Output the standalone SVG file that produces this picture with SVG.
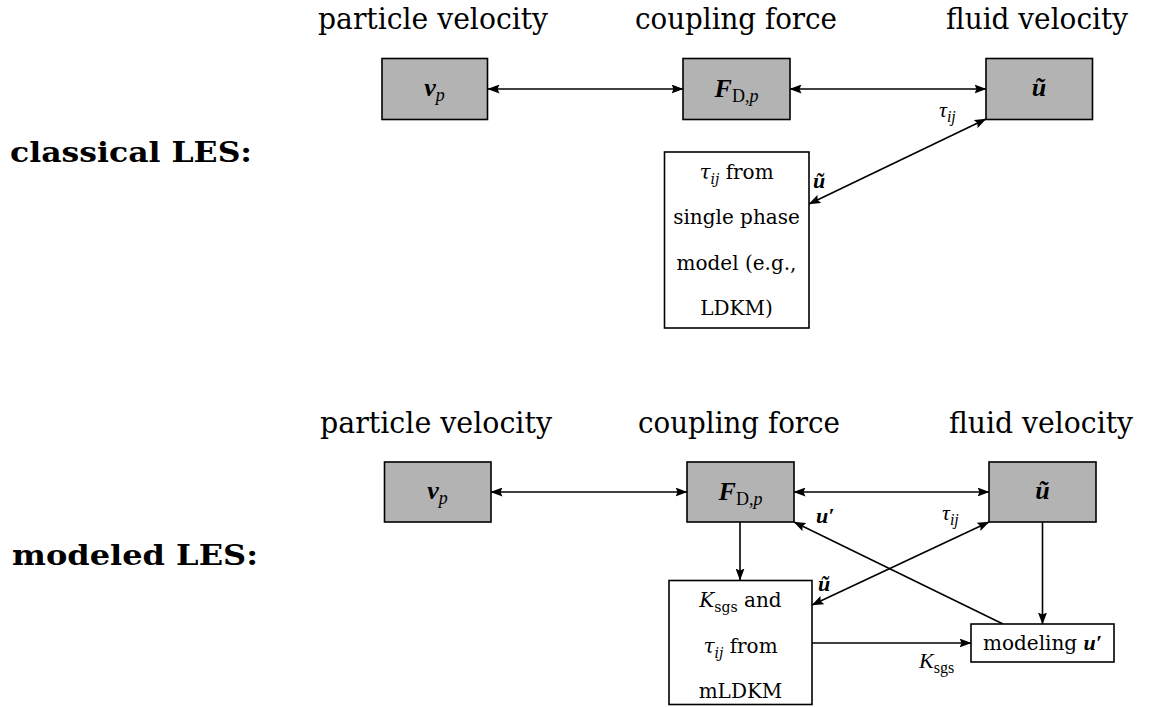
<svg xmlns="http://www.w3.org/2000/svg" width="1152" height="707" viewBox="0 0 1152 707">
<style>
text{font-family:"DejaVu Serif","Liberation Serif",serif;fill:#000}
.lib{font-family:"Liberation Serif","DejaVu Serif",serif}
.title{font-size:30px}
.head{font-size:28px;font-weight:bold}
.body{font-size:20px}
.math{font-size:26px}
.lbl{font-size:22px}
.bi{font-weight:bold;font-style:italic}
.it{font-style:italic}
.gbox{fill:#b3b3b3;stroke:#000;stroke-width:1.6}
.wbox{fill:#fff;stroke:#000;stroke-width:1.6}
.c{stroke:#000;stroke-width:1.6;fill:none}
</style>
<defs>
<marker id="ah" markerWidth="12" markerHeight="9" refX="11.5" refY="4.5" orient="auto-start-reverse" markerUnits="userSpaceOnUse">
<path d="M0,0 L12,4.5 L0,9 L2,4.5 z" fill="#000"/>
</marker>
</defs>
<rect width="1152" height="707" fill="#fff"/>

<text class="head" x="10" y="162" textLength="242" lengthAdjust="spacingAndGlyphs">classical LES:</text>
<text class="head" x="12" y="565" textLength="246" lengthAdjust="spacingAndGlyphs">modeled LES:</text>

<text class="title" x="318" y="29" textLength="230" lengthAdjust="spacingAndGlyphs">particle velocity</text>
<text class="title" x="635" y="29" textLength="202" lengthAdjust="spacingAndGlyphs">coupling force</text>
<text class="title" x="946" y="29" textLength="182" lengthAdjust="spacingAndGlyphs">fluid velocity</text>
<text class="title" x="320" y="433" textLength="232" lengthAdjust="spacingAndGlyphs">particle velocity</text>
<text class="title" x="638" y="433" textLength="202" lengthAdjust="spacingAndGlyphs">coupling force</text>
<text class="title" x="949" y="433" textLength="184" lengthAdjust="spacingAndGlyphs">fluid velocity</text>

<g id="connectors">
<line class="c" x1="488" y1="89" x2="683" y2="89" marker-start="url(#ah)" marker-end="url(#ah)"/>
<line class="c" x1="790" y1="89" x2="986" y2="89" marker-start="url(#ah)" marker-end="url(#ah)"/>
<line class="c" x1="986" y1="119" x2="809" y2="204" marker-start="url(#ah)" marker-end="url(#ah)"/>
<text class="lbl it lib" x="939" y="117">τ<tspan dy="5" font-size="16">ij</tspan></text>
<text class="lbl bi lib" x="813" y="188">ũ</text>

<line class="c" x1="491" y1="492" x2="687" y2="492" marker-start="url(#ah)" marker-end="url(#ah)"/>
<line class="c" x1="794" y1="492" x2="989" y2="492" marker-start="url(#ah)" marker-end="url(#ah)"/>
<line class="c" x1="740" y1="522" x2="740" y2="580" marker-end="url(#ah)"/>
<line class="c" x1="1042.5" y1="522" x2="1042.5" y2="624" marker-end="url(#ah)"/>
<line class="c" x1="812" y1="643" x2="971" y2="643" marker-end="url(#ah)"/>
<line class="c" x1="1003" y1="624" x2="794" y2="522" marker-end="url(#ah)"/>
<line class="c" x1="989" y1="522" x2="812" y2="605" marker-start="url(#ah)" marker-end="url(#ah)"/>
<text class="lbl bi lib" x="816" y="523">u′</text>
<text class="lbl it lib" x="942" y="520">τ<tspan dy="5" font-size="16">ij</tspan></text>
<text class="lbl bi lib" x="818" y="591">ũ</text>
<text class="lbl it lib" x="919" y="668">K<tspan dy="5" font-size="16" font-style="normal">sgs</tspan></text>
</g>

<g id="vp1">
<rect class="gbox" x="382" y="58.5" width="105.5" height="61"/>
<text class="math lib" x="434.5" y="96" text-anchor="middle"><tspan class="bi">v</tspan><tspan class="it" dy="5" font-size="18">p</tspan></text>
</g>
<g id="F1">
<rect class="gbox" x="683" y="58.5" width="107" height="61"/>
<text class="math lib" x="736.5" y="97" text-anchor="middle"><tspan class="bi">F</tspan><tspan dy="5" font-size="18">D,<tspan class="it">p</tspan></tspan></text>
</g>
<g id="u1">
<rect class="gbox" x="986" y="58.5" width="106.5" height="61"/>
<text class="math bi lib" x="1039" y="96" text-anchor="middle">ũ</text>
</g>
<g id="model1">
<rect class="wbox" x="664.5" y="152" width="144.5" height="176"/>
<text class="body" x="736.5" y="179" text-anchor="middle"><tspan class="it">τ</tspan><tspan class="it" dy="5" font-size="14">ij</tspan><tspan dy="-5"> from</tspan></text>
<text class="body" x="736.5" y="224" text-anchor="middle">single phase</text>
<text class="body" x="736.5" y="270" text-anchor="middle">model (e.g.,</text>
<text class="body" x="736.5" y="315" text-anchor="middle">LDKM)</text>
</g>

<g id="vp2">
<rect class="gbox" x="384.5" y="462" width="106.5" height="60"/>
<text class="math lib" x="437.5" y="499" text-anchor="middle"><tspan class="bi">v</tspan><tspan class="it" dy="5" font-size="18">p</tspan></text>
</g>
<g id="F2">
<rect class="gbox" x="687" y="462" width="107" height="60"/>
<text class="math lib" x="740.5" y="500" text-anchor="middle"><tspan class="bi">F</tspan><tspan dy="5" font-size="18">D,<tspan class="it">p</tspan></tspan></text>
</g>
<g id="u2">
<rect class="gbox" x="989" y="462" width="107" height="60"/>
<text class="math bi lib" x="1042.5" y="499" text-anchor="middle">ũ</text>
</g>
<g id="mldkm">
<rect class="wbox" x="669" y="580.5" width="143" height="124"/>
<text class="body" x="740.5" y="607" text-anchor="middle"><tspan class="it">K</tspan><tspan dy="5" font-size="14">sgs</tspan><tspan dy="-5"> and</tspan></text>
<text class="body" x="740.5" y="653" text-anchor="middle"><tspan class="it">τ</tspan><tspan class="it" dy="5" font-size="14">ij</tspan><tspan dy="-5"> from</tspan></text>
<text class="body" x="740.5" y="698" text-anchor="middle">mLDKM</text>
</g>
<g id="modeling">
<rect class="wbox" x="971" y="624" width="143" height="38"/>
<text class="body" x="1042.5" y="650" text-anchor="middle">modeling <tspan class="bi lib" font-size="22">u′</tspan></text>
</g>
</svg>
